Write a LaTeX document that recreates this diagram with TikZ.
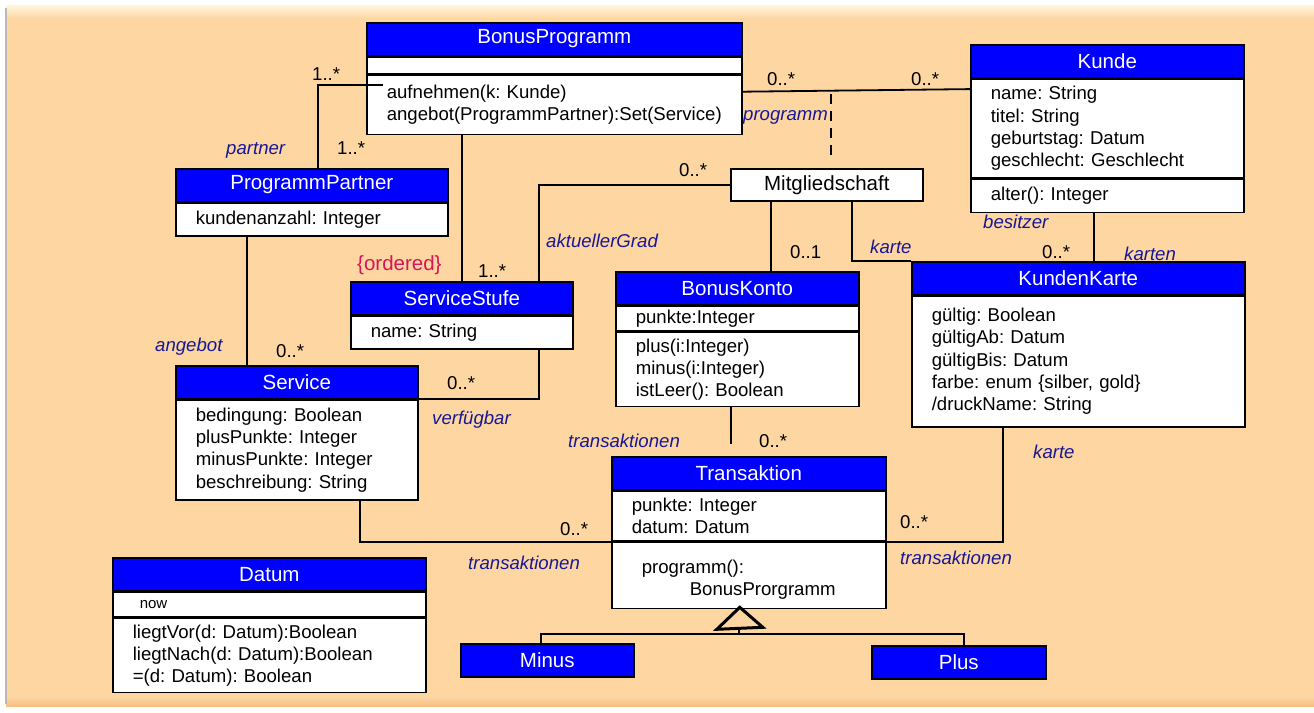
\documentclass[tikz,border=0pt]{standalone}
\usepackage{fontspec}
\setmainfont{Liberation Sans}
\usetikzlibrary{positioning}

\definecolor{peach}{RGB}{253,214,161}
\definecolor{cream}{RGB}{255,246,220}
\definecolor{rim}{RGB}{248,190,130}
\definecolor{umlblue}{RGB}{0,0,255}
\definecolor{rolecol}{RGB}{24,24,150}
\definecolor{constrcol}{RGB}{215,20,90}

\newcommand{\hdrfont}{\fontsize{20.5}{24}\selectfont\frenchspacing}
\newcommand{\txtfont}{\fontsize{18.6}{22.3}\selectfont\frenchspacing}

\tikzset{
  hdr/.style={draw, line width=1.6pt, fill=umlblue, text=white, font=\hdrfont, minimum height=32.5pt, inner sep=0pt, anchor=north west},
  comp/.style={draw, line width=1.6pt, fill=white, font=\txtfont, align=left, inner xsep=20pt, inner ysep=0pt},
  linkcls/.style={draw, line width=1.6pt, fill=white, font=\hdrfont, inner sep=0pt, anchor=north west},
  assoc/.style={line width=1.8pt},
  gentri/.style={line width=3pt, line join=miter, fill=peach},
  mult/.style={font=\txtfont, inner sep=0pt, anchor=base west},
  role/.style={font=\txtfont\itshape, text=rolecol, inner sep=0pt, anchor=base west},
}

\begin{document}
\begin{tikzpicture}[x=1pt,y=-1pt]
  \useasboundingbox (0,0) rectangle (1314,712);
  \fill[white] (0,0) rectangle (1314,712);
  \fill[peach] (6,5) rectangle (1314,706);
  \shade[top color=cream, bottom color=peach] (6,5) rectangle (1314,19);
  \shade[top color=peach, bottom color=rim] (6,697) rectangle (1314,706);
  \draw[gray!55, line width=1.5pt] (6,8) -- (6,704);

  \node[hdr, minimum width=375pt] (bph) at (366,22) {BonusProgramm};
  \node[comp, below=0pt of bph, text width=335pt, minimum height=17pt] (bpa) {};
  \node[comp, below=0pt of bpa, text width=335pt, minimum height=59pt] (bpm) {aufnehmen(k: Kunde)\\angebot(ProgrammPartner):Set(Service)};

  \node[hdr, minimum width=273pt] (kuh) at (970,44) {Kunde};
  \node[comp, below=0pt of kuh, text width=233pt, minimum height=99pt] (kua) {name: String\\titel: String\\geburtstag: Datum\\geschlecht: Geschlecht};
  \node[comp, below=0pt of kua, text width=233pt, minimum height=33pt] (kum) {alter(): Integer};

  \node[linkcls, minimum width=192pt, minimum height=32pt] (mg) at (730,168) {Mitgliedschaft};

  \node[hdr, minimum width=272pt] (pph) at (175,168) {ProgrammPartner};
  \node[comp, below=0pt of pph, text width=232pt, minimum height=33pt] (ppa) {kundenanzahl: Integer};

  \node[hdr, minimum width=222pt] (ssh) at (350,281) {ServiceStufe};
  \node[comp, below=0pt of ssh, text width=182pt, minimum height=33pt] (ssa) {name: String};

  \node[hdr, minimum width=242pt] (svh) at (175,365) {Service};
  \node[comp, below=0pt of svh, text width=202pt, minimum height=100pt] (sva) {bedingung: Boolean\\plusPunkte: Integer\\minusPunkte: Integer\\beschreibung: String};

  \node[hdr, minimum width=243pt] (bkh) at (615,271) {BonusKonto};
  \node[comp, below=0pt of bkh, text width=203pt, minimum height=25pt] (bka) {punkte:Integer};
  \node[comp, below=0pt of bka, text width=203pt, minimum height=74pt] (bkm) {plus(i:Integer)\\minus(i:Integer)\\istLeer(): Boolean};

  \node[hdr, minimum width=333pt] (kkh) at (911,261) {KundenKarte};
  \node[comp, below=0pt of kkh, text width=293pt, minimum height=131pt] (kka) {gültig: Boolean\\gültigAb: Datum\\gültigBis: Datum\\farbe: enum \{silber, gold\}\\/druckName: String};

  \node[hdr, minimum width=274pt] (trh) at (611,456) {Transaktion};
  \node[comp, below=0pt of trh, text width=234pt, minimum height=50pt] (tra) {punkte: Integer\\datum: Datum};
  \node[comp, below=0pt of tra, text width=234pt, minimum height=66pt] (trm) {\mbox{}\\\hspace*{10pt}programm():\\\hspace*{58pt}BonusProrgramm};

  \node[hdr, minimum width=313pt] (dah) at (112,557) {Datum};
  \node[comp, below=0pt of dah, text width=273pt, minimum height=25pt] (daa) {\hspace*{7pt}{\fontsize{15}{18}\selectfont now}};
  \node[comp, below=0pt of daa, text width=273pt, minimum height=74pt] (dam) {liegtVor(d: Datum):Boolean\\liegtNach(d: Datum):Boolean\\=(d: Datum): Boolean};

  \node[hdr, minimum width=173pt, minimum height=33pt] (mnh) at (460,643) {Minus};
  \node[hdr, minimum width=174pt, minimum height=33pt] (plh) at (871,645) {Plus};

  \coordinate (bpin) at (383,85);
  \coordinate (mgx) at (831,88);
  \coordinate (genjoin) at (739,634);

  \draw[assoc] (bpin) -| ([xshift=6pt]pph.north);
  \draw[assoc] (ssh.north) -- (ssh.north |- bpm.south);
  \draw[assoc] ([xshift=-50pt]svh.north) -- ([xshift=-50pt]svh.north |- ppa.south);
  \draw[assoc] (mg.west) -| ([xshift=77pt]ssh.north);
  \draw[assoc] ([xshift=77pt]ssa.south) |- (svh.south east);
  \draw[assoc] ([yshift=-17pt]bpm.north east) -- ([yshift=-11pt]kua.north west);
  \draw[assoc, dash pattern=on 10pt off 7pt, shorten <=6pt, shorten >=8pt] (mgx) -- (mgx |- mg.north);
  \draw[assoc] ([xshift=-56pt]mg.south) -- ([xshift=-56pt]mg.south |- bkh.north);
  \draw[assoc] ([xshift=25pt]mg.south) |- (kkh.north west);
  \draw[assoc] ([xshift=-13.5pt]kum.south) -- ([xshift=-13.5pt]kum.south |- kkh.north);
  \draw[assoc, shorten >=12pt] ([xshift=-6.5pt]bkm.south) -- ([xshift=-6.5pt]bkm.south |- trh.north);
  \draw[assoc] ([xshift=-75.5pt]kka.south) |- (tra.south east);
  \draw[assoc] ([xshift=63pt]sva.south) |- (tra.south west);
  \draw[assoc] ([xshift=-6.5pt]mnh.north) |- (genjoin) -| ([xshift=5pt]plh.north);
  \draw[assoc] (genjoin) -- ++(0,-14);
  \draw[gentri] ([xshift=-9pt, yshift=2pt]trm.south) -- ++(-23,22) -- ++(46,-2) -- cycle;

  \node[mult] (m1) at (312,80) {1..*};
  \node[mult] (m2) at (337,154) {1..*};
  \node[role] (r1) at (226,154) {partner};
  \node[mult, text=constrcol, font=\hdrfont] (c1) at (357,270) {\{ordered\}};
  \node[mult] (m3) at (478,277) {1..*};
  \node[role] (r2) at (155,351) {angebot};
  \node[mult] (m4) at (276,357) {0..*};
  \node[mult] (m5) at (447,389) {0..*};
  \node[role] (r3) at (432,424) {verfügbar};
  \node[role] (r4) at (546,247) {aktuellerGrad};
  \node[mult] (m6) at (679,176) {0..*};
  \node[mult] (m7) at (767,85) {0..*};
  \node[mult] (m8) at (911,85) {0..*};
  \node[role] (r5) at (743,120) {programm};
  \node[mult] (m9) at (790,258) {0..1};
  \node[role] (r6) at (870,253) {karte};
  \node[role] (r7) at (983,228) {besitzer};
  \node[mult] (m10) at (1042,258) {0..*};
  \node[role] (r8) at (1124,260) {karten};
  \node[role] (r9) at (568,447) {transaktionen};
  \node[mult] (m11) at (759,447) {0..*};
  \node[role] (r10) at (1033,458) {karte};
  \node[mult] (m12) at (900,528) {0..*};
  \node[role] (r11) at (900,564) {transaktionen};
  \node[mult] (m13) at (560,535) {0..*};
  \node[role] (r12) at (468,569) {transaktionen};
\end{tikzpicture}
\end{document}
